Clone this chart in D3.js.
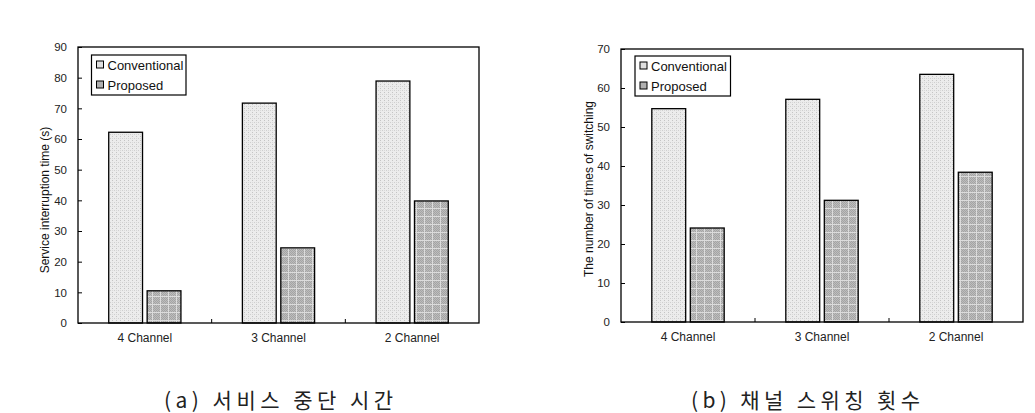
<!DOCTYPE html>
<html><head><meta charset="utf-8">
<script src="https://cdn.jsdelivr.net/npm/d3@7/dist/d3.min.js"></script>
<style>body{margin:0;background:#fff}svg{display:block}</style>
</head><body>
<svg id="c" width="1035" height="413"></svg>
<script>
const categories = ["4 Channel", "3 Channel", "2 Channel"];
const seriesNames = ["Conventional", "Proposed"];
const interruptConventional = [62.2, 71.7, 78.9];
const interruptProposed = [10.5, 24.5, 39.8];
const switchConventional = [54.7, 57.1, 63.5];
const switchProposed = [24.1, 31.2, 38.4];
const ticksA = [0,10,20,30,40,50,60,70,80,90];
const ticksB = [0,10,20,30,40,50,60,70];
const captionA = "(a) 서비스 중단 시간";
const captionB = "(b) 채널 스위칭 횟수";

const svg = d3.select("#c");
const defs = svg.append("defs");
const p1 = defs.append("pattern").attr("id","pConv").attr("patternUnits","userSpaceOnUse").attr("width",4).attr("height",4);
p1.append("rect").attr("width",4).attr("height",4).attr("fill","#ececec");
p1.append("rect").attr("x",0).attr("y",0).attr("width",1).attr("height",1).attr("fill","#c4c4c4");
p1.append("rect").attr("x",2).attr("y",2).attr("width",1).attr("height",1).attr("fill","#cfcfcf");
p1.append("rect").attr("x",0).attr("y",2).attr("width",1).attr("height",1).attr("fill","#d8d8d8");
const p2 = defs.append("pattern").attr("id","pProp").attr("patternUnits","userSpaceOnUse").attr("width",8).attr("height",8);
p2.append("rect").attr("width",8).attr("height",8).attr("fill","#bdbdbd");
for (let i=0;i<8;i++) for (let j=0;j<8;j++) if ((i+j)%2===0) p2.append("rect").attr("x",i).attr("y",j).attr("width",1).attr("height",1).attr("fill","#a4a4a4");
p2.append("rect").attr("x",0).attr("y",0).attr("width",8).attr("height",1).attr("fill","#dcdcdc");
p2.append("rect").attr("x",0).attr("y",0).attr("width",1).attr("height",8).attr("fill","#dcdcdc");
const fills = ["url(#pConv)", "url(#pProp)"];
const FONT = "Liberation Sans, Arial, sans-serif";

function chart(cfg) {
  const {x0, x1, y0, y1, ymax, ticks, vals, title, titleX, titleY, legend, caption, capX, capW} = cfg;
  const g = svg.append("g");
  const x = d3.scaleBand().domain(categories).range([x0, x1]).paddingInner(0).paddingOuter(0);
  const xs = d3.scaleBand().domain(seriesNames).range([0, x.bandwidth()]).paddingInner(0.12).paddingOuter(0.8);
  const y = d3.scaleLinear().domain([0, ymax]).range([y1, y0]);

  categories.forEach((c, ci) => {
    seriesNames.forEach((s, si) => {
      const v = vals[si][ci];
      g.append("rect")
        .attr("x", x(c) + xs(s)).attr("y", y(v))
        .attr("width", xs.bandwidth()).attr("height", y(0) - y(v))
        .attr("fill", fills[si]).attr("stroke", "#000").attr("stroke-width", 1.3);
    });
  });

  g.append("rect").attr("x", x0).attr("y", y0).attr("width", x1 - x0).attr("height", y1 - y0)
    .attr("fill", "none").attr("stroke", "#000").attr("stroke-width", 1.3);

  const ya = d3.axisLeft(y).tickValues(ticks).tickSize(-4).tickPadding(11);
  const yg = g.append("g").attr("transform", `translate(${x0},0)`).call(ya);
  yg.select(".domain").remove();
  yg.selectAll("line").attr("stroke", "#000");
  yg.selectAll("text").attr("font-family", FONT).attr("font-size", 11.5).attr("fill", "#222");

  const xa = d3.axisBottom(x).tickSize(0).tickPadding(10);
  const xg = g.append("g").attr("transform", `translate(0,${y1})`).call(xa);
  xg.select(".domain").remove();
  xg.selectAll("text").attr("font-family", FONT).attr("font-size", 12).attr("fill", "#222");
  categories.slice(1).forEach(c => {
    g.append("line").attr("x1", x(c)).attr("x2", x(c)).attr("y1", y1).attr("y2", y1 - 4).attr("stroke", "#000").attr("stroke-width", 1);
  });

  g.append("text").attr("transform", `translate(${titleX},${titleY}) rotate(-90)`)
    .attr("text-anchor", "middle").attr("font-family", FONT)
    .attr("font-size", 12).attr("fill", "#111").text(title);

  const lg = g.append("g").attr("transform", `translate(${legend[0]},${legend[1]})`);
  lg.append("rect").attr("width", legend[2]).attr("height", 40).attr("fill", "#fff").attr("stroke", "#000").attr("stroke-width", 1.2);
  seriesNames.forEach((s, i) => {
    lg.append("rect").attr("x", 5).attr("y", 6 + i * 20).attr("width", 7).attr("height", 7)
      .attr("fill", i === 0 ? "#e0e0e0" : "#b0b0b0").attr("stroke", "#000").attr("stroke-width", 1);
    lg.append("text").attr("x", 16).attr("y", 14.5 + i * 20).attr("font-family", FONT)
      .attr("font-size", 13).attr("fill", "#111").text(s);
  });

  svg.append("text").attr("x", capX).attr("y", 408)
    .attr("font-family", "Noto Sans CJK KR, sans-serif")
    .attr("font-size", 21).attr("font-weight", 400).attr("fill", "#222")
    .attr("textLength", capW).attr("lengthAdjust", "spacing").text(caption);
}

chart({x0: 78, x1: 479, y0: 47, y1: 323, ymax: 90, ticks: ticksA,
  vals: [interruptConventional, interruptProposed], title: "Service interruption time (s)",
  titleX: 49, titleY: 200, legend: [91.5, 55, 94.5], caption: captionA, capX: 164, capW: 229});
chart({x0: 621, x1: 1023, y0: 49, y1: 322, ymax: 70, ticks: ticksB,
  vals: [switchConventional, switchProposed], title: "The number of times of switching",
  titleX: 593, titleY: 189, legend: [635, 56, 95.5], caption: captionB, capX: 691, capW: 229});
</script>
</body></html>
